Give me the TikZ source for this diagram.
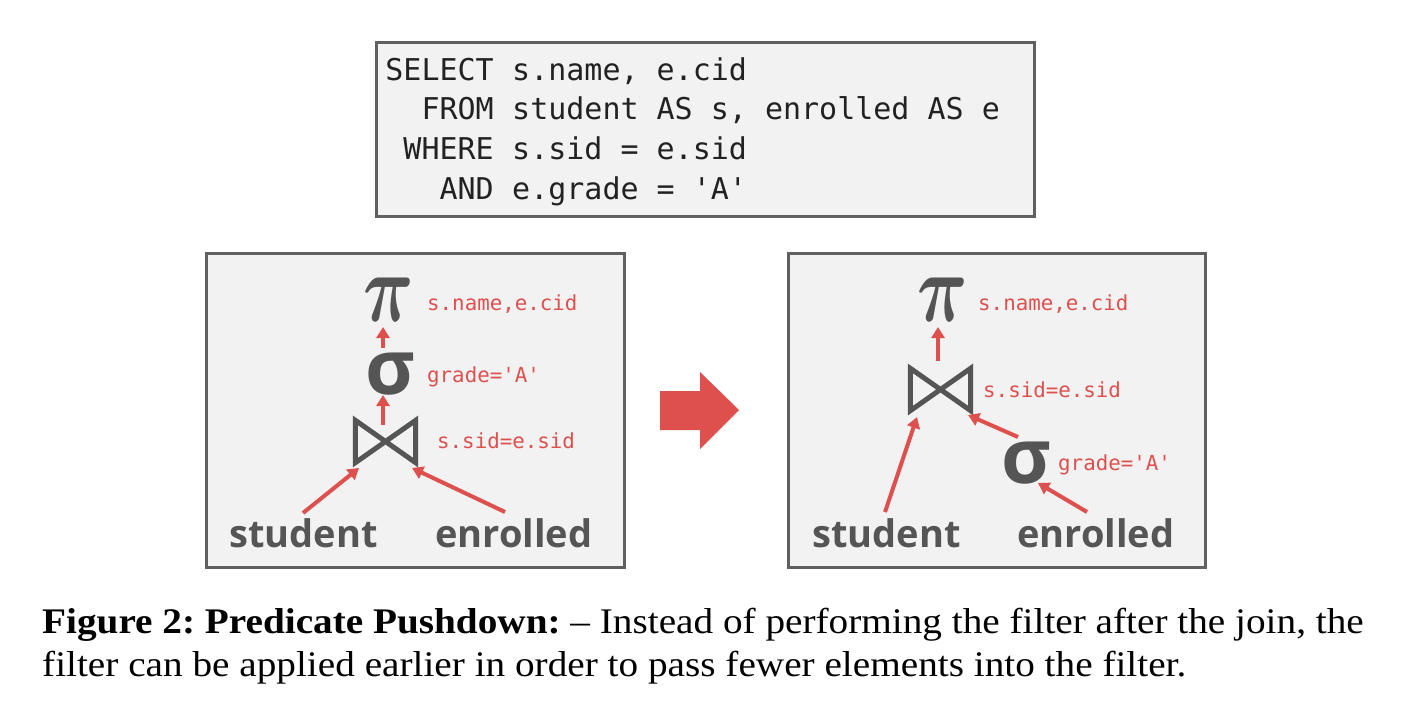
\documentclass[tikz,border=0pt]{standalone}
\usepackage{graphicx}
\usepackage{fontspec}
\setmainfont{Liberation Serif}[FakeStretch=1.09]
\newfontfamily\codefont{DejaVu Sans Mono}
\newfontfamily\relfont{Open Sans}
\usetikzlibrary{arrows.meta}
\frenchspacing
\definecolor{boxfill}{HTML}{F2F2F2}
\definecolor{boxline}{HTML}{606060}
\definecolor{glyphgray}{HTML}{555555}
\definecolor{accent}{HTML}{DE504E}
\definecolor{codeink}{HTML}{222222}
\newcommand{\bigpi}{\scalebox{7}[9.8]{\normalsize\boldmath$\pi$}}
\tikzset{
  panel/.style={draw=boxline, fill=boxfill, line width=3pt},
  code/.style={inner sep=0pt, text=codeink, font=\codefont\fontsize{30}{30}\selectfont},
  lab/.style={inner sep=0pt, text=accent, anchor=base west, font=\codefont\fontsize{20.8}{21}\selectfont},
  rel/.style={inner sep=0pt, text=glyphgray, anchor=base west, font=\relfont\bfseries\fontsize{38}{38}\selectfont},
  pinode/.style={inner sep=0pt, text=glyphgray},
  signode/.style={inner sep=0pt, text=glyphgray, font=\relfont\bfseries\fontsize{76}{76}\selectfont},
  bownode/.style={inner sep=0pt, minimum width=60pt, minimum height=42pt},
  bow/.style={draw=glyphgray, line width=5pt, line join=miter},
  arr/.style={draw=accent, line width=4pt, -{Triangle[width=13pt,length=11pt]}},
  captext/.style={inner sep=0pt, anchor=base west, font=\fontsize{36}{36}\selectfont},
}
\begin{document}
\begin{tikzpicture}[x=1pt,y=-1pt]
\useasboundingbox (0,0) rectangle (1410,714);
\fill[white] (0,0) rectangle (1410,714);

% SQL box
\draw[panel] (376,43) rectangle (1034,216);
\node[code, anchor=base east] (k1) at (494,81) {SELECT};
\node[code, anchor=base west] (v1) at (512,81) {s.name, e.cid};
\node[code, anchor=base east] (k2) at (494,120) {FROM};
\node[code, anchor=base west] (v2) at (512,120) {student AS s, enrolled AS e};
\node[code, anchor=base east] (k3) at (494,160) {WHERE};
\node[code, anchor=base west] (v3) at (512,160) {s.sid = e.sid};
\node[code, anchor=base east] (k4) at (494,200) {AND};
\node[code, anchor=base west] (v4) at (512,200) {e.grade = 'A'};

% panels
\draw[panel] (206,253) rectangle (624,567);
\draw[panel] (788,253) rectangle (1205,567);

% left tree
\node[pinode] (pi1) at (389,300) {\bigpi};
\node[signode] (sg1) at (390,374) {σ};
\node[bownode] (bt1) at (385.5,441.5) {};
\draw[bow] (bt1.north west) -- (bt1.south west) -- (bt1.north east) -- (bt1.south east) -- cycle;
\node[lab] (l1a) at (427,310) {s.name,e.cid};
\node[lab] (l1b) at (427,382) {grade='A'};
\node[lab] (l1c) at (437,448) {s.sid=e.sid};
\node[rel] (st1) at (229,547) {student};
\node[rel] (en1) at (435,547) {enrolled};
\coordinate (a1s) at (383,348); \coordinate (a1e) at (383,327);
\coordinate (a2s) at (383,425); \coordinate (a2e) at (383,395);
\coordinate (a3s) at (303,513); \coordinate (a3e) at (359,468);
\coordinate (a4s) at (505,512); \coordinate (a4e) at (412,468);
\draw[arr] (a1s) -- (a1e);
\draw[arr] (a2s) -- (a2e);
\draw[arr] (a3s) -- (a3e);
\draw[arr] (a4s) -- (a4e);

% big arrow
\fill[accent] (660,391) -- (700,391) -- (700,372) -- (739,410) -- (700,449) -- (700,430) -- (660,430) -- cycle;

% right tree
\node[pinode] (pi2) at (943,300) {\bigpi};
\node[bownode] (bt2) at (940.5,389.5) {};
\draw[bow] (bt2.north west) -- (bt2.south west) -- (bt2.north east) -- (bt2.south east) -- cycle;
\node[signode] (sg2) at (1026,463) {σ};
\node[lab] (l2a) at (978,310) {s.name,e.cid};
\node[lab] (l2b) at (983,397) {s.sid=e.sid};
\node[lab] (l2c) at (1058,470) {grade='A'};
\node[rel] (st2) at (812,547) {student};
\node[rel] (en2) at (1017,547) {enrolled};
\coordinate (b1s) at (938,361); \coordinate (b1e) at (938,327);
\coordinate (b2s) at (885,512); \coordinate (b2e) at (917,417);
\coordinate (b3s) at (1018,437); \coordinate (b3e) at (968,415);
\coordinate (b4s) at (1087,512); \coordinate (b4e) at (1038,483);
\draw[arr] (b1s) -- (b1e);
\draw[arr] (b2s) -- (b2e);
\draw[arr] (b3s) -- (b3e);
\draw[arr] (b4s) -- (b4e);

% caption
\node[captext] (c1) at (42,633) {{\bfseries Figure 2: Predicate Pushdown:} -- Instead of performing the filter after the join, the};
\node[captext] (c2) at (42,676) {filter can be applied earlier in order to pass fewer elements into the filter.};
\end{tikzpicture}
\end{document}
